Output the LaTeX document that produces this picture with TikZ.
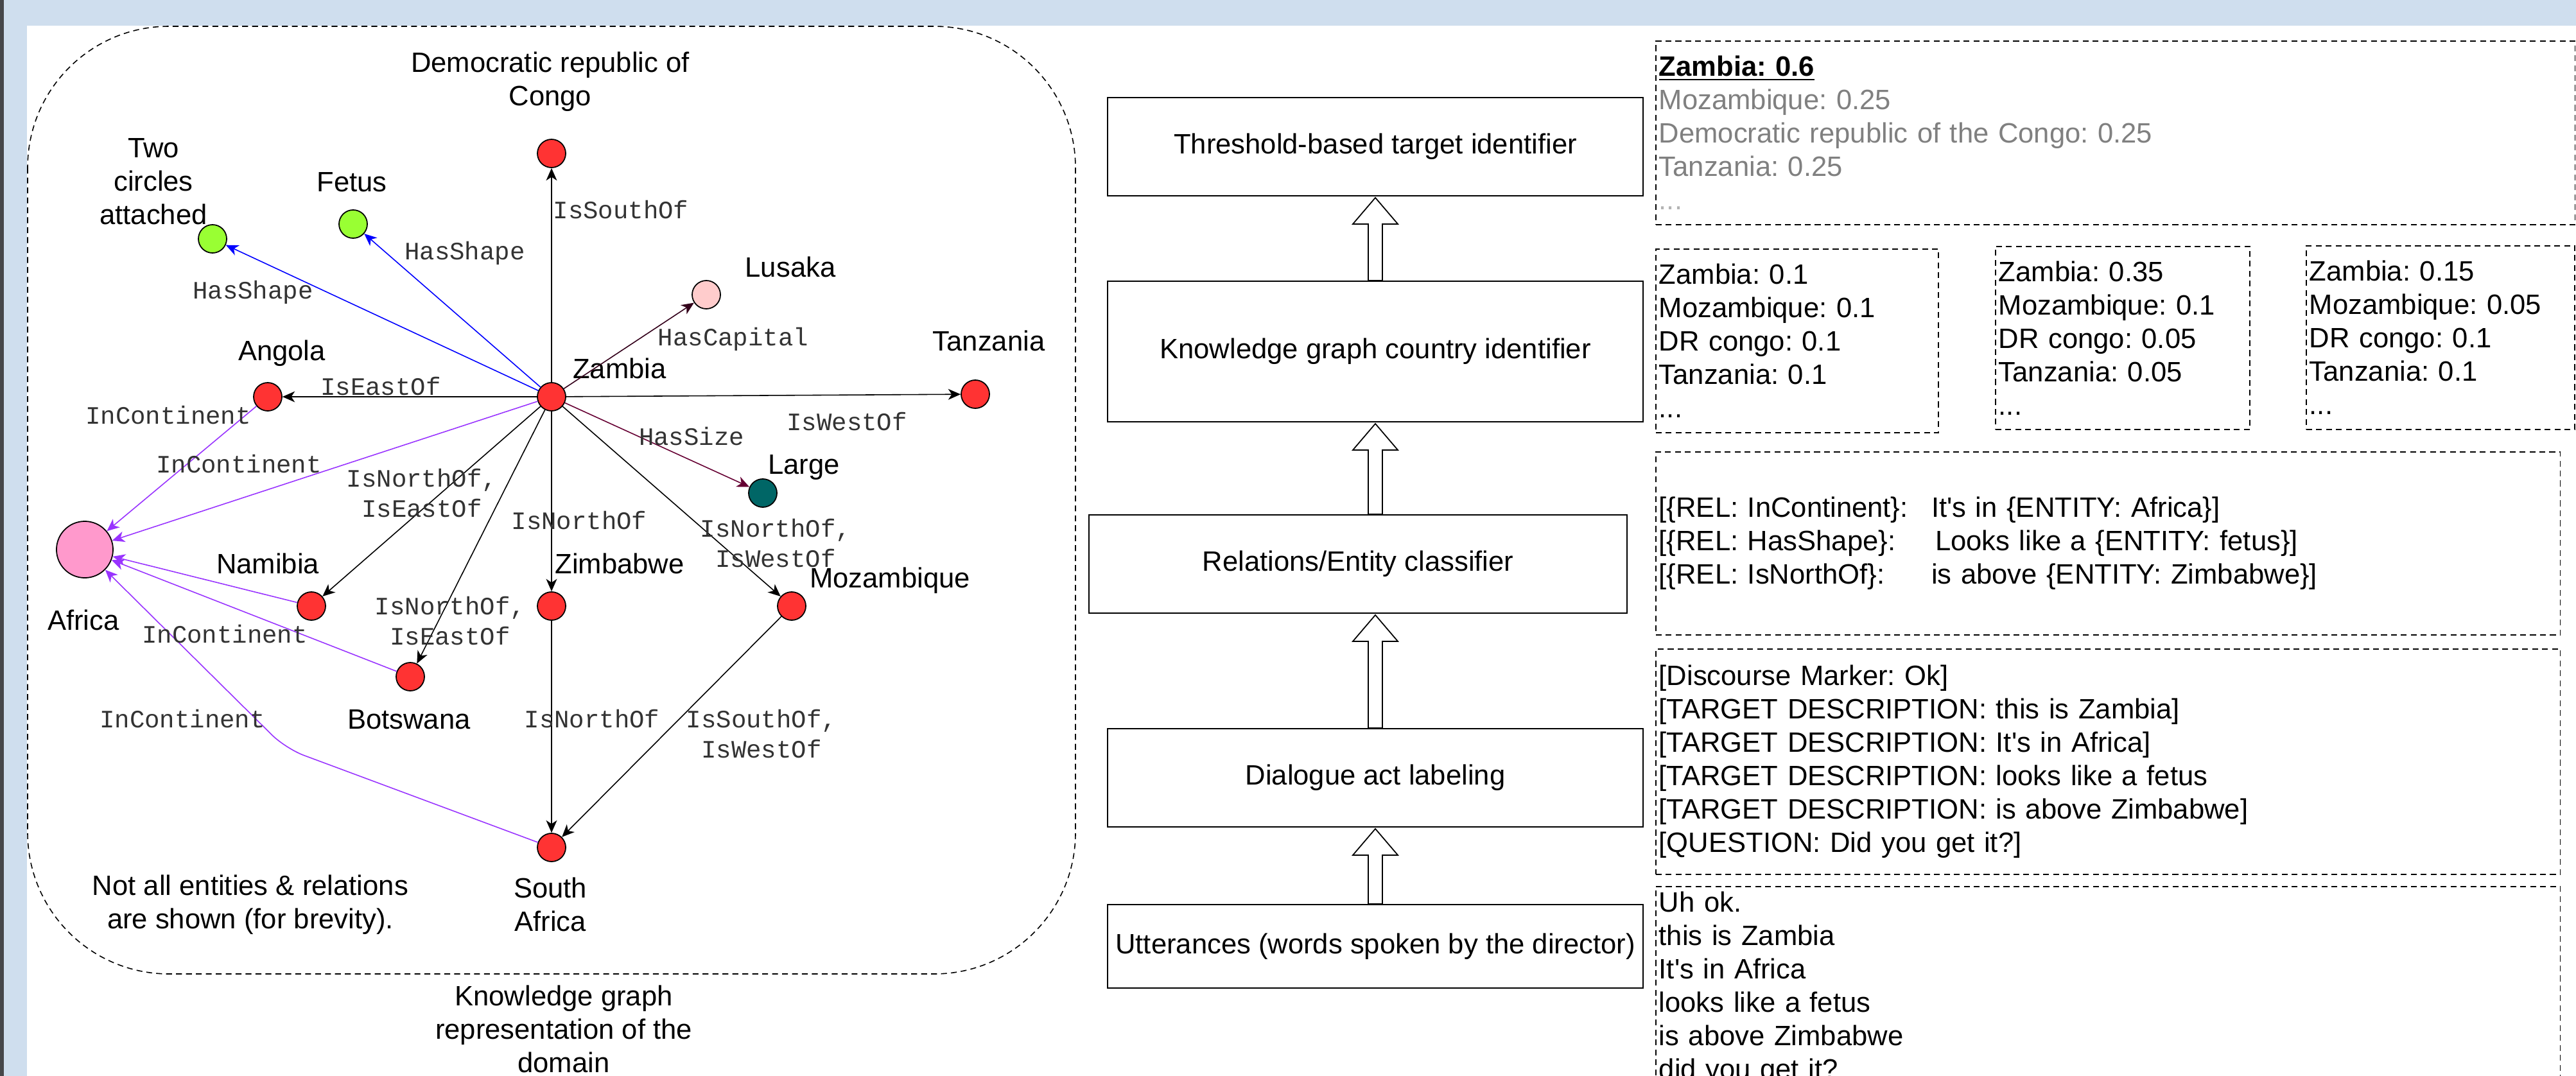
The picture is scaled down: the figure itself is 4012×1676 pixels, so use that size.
\documentclass[tikz,border=0pt]{standalone}
\usepackage{fontspec}
\setmainfont{Liberation Sans}
\setmonofont{Liberation Mono}
\usetikzlibrary{positioning,arrows.meta,calc}
\frenchspacing

\definecolor{kgred}{HTML}{FF3333}
\definecolor{kggreen}{HTML}{99FF33}
\definecolor{kgpink}{HTML}{FFCCCC}
\definecolor{kgafrica}{HTML}{FF99CC}
\definecolor{kgteal}{HTML}{006666}
\definecolor{kgblue}{HTML}{0000FF}
\definecolor{kgpurple}{HTML}{9933FF}
\definecolor{kgmaroon}{HTML}{33001A}
\definecolor{kgwine}{HTML}{660033}
\definecolor{kggray}{HTML}{808080}
\definecolor{kglight}{HTML}{B3B3B3}
\definecolor{pageblue}{HTML}{CFDEEE}
\definecolor{pagegray}{HTML}{46474A}

\newcommand{\lblfont}{\fontsize{12.4}{14.8}\selectfont}
\newcommand{\relfont}{\fontsize{11.1}{13.4}\selectfont\ttfamily}

\tikzset{
  country/.style={circle, draw=black, line width=0.5pt, fill=kgred, minimum size=0.44cm, inner sep=0pt},
  entlbl/.style={font=\lblfont, align=center, inner sep=0pt, text=black},
  rellbl/.style={font=\relfont, align=center, inner sep=0pt, text=black!80},
  kgedge/.style={line width=0.45pt, draw=black, -{Stealth[length=5.5pt,width=4.8pt,inset=1.6pt]}},
  shapeedge/.style={kgedge, draw=kgblue},
  contedge/.style={kgedge, draw=kgpurple},
  propedge/.style={kgedge, draw=kgwine},
  procbox/.style={draw, line width=0.5pt, minimum width=8.34cm, minimum height=1.53cm, font=\lblfont, inner sep=0pt},
  blockarrow/.style={draw, fill=white, line width=0.5pt, line join=miter},
  dashbox/.style={draw, dash pattern=on 2.6pt off 1.8pt, line width=0.45pt, font=\lblfont, align=left, inner xsep=0.05cm, inner ysep=0pt, anchor=north west}
}

\begin{document}
\begin{tikzpicture}[x=0.01cm, y=-0.01cm]

  \useasboundingbox (0,0) rectangle (4012,1676);
  \clip (0,0) rectangle (4012,1676);
  \fill[white] (0,0) rectangle (4012,1676);
  \fill[pageblue] (0,0) rectangle (4012,40);
  \fill[pageblue] (0,0) rectangle (42,1676);
  \fill[pagegray] (0,0) rectangle (6,1676);

  % knowledge graph
  \draw[dash pattern=on 2.6pt off 1.8pt, line width=0.45pt, rounded corners=2.2cm] (43,41) rectangle (1675,1517);

  \node[country] (drc) at (859,239) {};
  \node[country, fill=kggreen] (two) at (331,372) {};
  \node[country, fill=kggreen] (fetus) at (550,349) {};
  \node[country, fill=kgpink] (lusaka) at (1100,459) {};
  \node[country] (zambia) at (859,618) {};
  \node[country] (angola) at (417,618) {};
  \node[country] (tanzania) at (1519,614) {};
  \node[country, fill=kgteal] (large) at (1188,768) {};
  \node[country, fill=kgafrica, minimum size=0.88cm] (africa) at (132,856) {};
  \node[country] (namibia) at (485,944) {};
  \node[country] (zimbabwe) at (859,944) {};
  \node[country] (mozambique) at (1233,944) {};
  \node[country] (botswana) at (639,1054) {};
  \node[country] (southafrica) at (859,1320) {};

  \node[entlbl] (ldrc) at (857,127) {Democratic republic of\\Congo};
  \node[entlbl] (ltwo) at (239,283) {Two\\circles\\attached};
  \node[entlbl] (lfetus) at (548,284) {Fetus};
  \node[entlbl] (llusaka) at (1231,416) {Lusaka};
  \node[entlbl] (ltanzania) at (1540,531) {Tanzania};
  \node[entlbl] (lzambia) at (965,574) {Zambia};
  \node[entlbl] (langola) at (439,550) {Angola};
  \node[entlbl] (llarge) at (1252,728) {Large};
  \node[entlbl] (lnamibia) at (417,878) {Namibia};
  \node[entlbl] (lzimbabwe) at (965,878) {Zimbabwe};
  \node[entlbl] (lmozambique) at (1386,904) {Mozambique};
  \node[entlbl] (lafrica) at (130,966) {Africa};
  \node[entlbl] (lbotswana) at (637,1121) {Botswana};
  \node[entlbl] (lsouthafrica) at (857,1409) {South\\Africa};
  \node[entlbl] (lnote) at (390,1409) {Not all entities \& relations\\are shown (for brevity).};
  \node[entlbl] (lcaption) at (878,1603) {Knowledge graph\\representation of the\\domain};

  \draw[kgedge] (zambia) -- (drc);
  \draw[shapeedge] (zambia) -- (two);
  \draw[shapeedge] (zambia) -- (fetus);
  \draw[propedge, draw=kgmaroon] (zambia) -- (lusaka);
  \draw[kgedge] (zambia) -- (angola);
  \draw[kgedge] (zambia) -- (tanzania);
  \draw[propedge] (zambia) -- (large);
  \draw[kgedge] (zambia) -- (namibia);
  \draw[kgedge] (zambia) -- (botswana);
  \draw[kgedge] (zambia) -- (zimbabwe);
  \draw[kgedge] (zambia) -- (mozambique);
  \draw[kgedge] (zimbabwe) -- (southafrica);
  \draw[kgedge] (mozambique) -- (southafrica);
  \draw[contedge] (zambia) -- (africa);
  \draw[contedge] (angola) -- (africa);
  \draw[contedge] (namibia) -- (africa);
  \draw[contedge] (botswana) -- (africa);
  \coordinate (bend) at (445,1166);
  \draw[contedge, rounded corners=0.3cm] (southafrica) -- (bend) -- (africa);

  \node[rellbl] (rsouth) at (967,327) {IsSouthOf};
  \node[rellbl] (rshapefetus) at (724,394) {HasShape};
  \node[rellbl] (rshapetwo) at (394,455) {HasShape};
  \node[rellbl] (rcapital) at (1142,528) {HasCapital};
  \node[rellbl] (reast) at (593,602) {IsEastOf};
  \node[rellbl] (rwest) at (1319,657) {IsWestOf};
  \node[rellbl] (rsize) at (1077,680) {HasSize};
  \node[rellbl] (rcontangola) at (262,647) {InContinent};
  \node[rellbl] (rcontzambia) at (372,723) {InContinent};
  \node[rellbl] (rnamibia) at (657,768) {IsNorthOf,\\IsEastOf};
  \node[rellbl] (rzimbabwe) at (902,811) {IsNorthOf};
  \node[rellbl] (rmozambique) at (1208,846) {IsNorthOf,\\IsWestOf};
  \node[rellbl] (rbotswana) at (701,967) {IsNorthOf,\\IsEastOf};
  \node[rellbl] (rcontnamibia) at (350,988) {InContinent};
  \node[rellbl] (rcontsouth) at (284,1120) {InContinent};
  \node[rellbl] (rzimsouth) at (922,1120) {IsNorthOf};
  \node[rellbl] (rmozsouth) at (1186,1143) {IsSouthOf,\\IsWestOf};

  % pipeline
  \node[procbox] (b1) at (2142,228.5) {Threshold-based target identifier};
  \node[procbox, minimum height=2.19cm] (b2) at (2142,547.5) {Knowledge graph country identifier};
  \node[procbox, minimum width=8.38cm] (b3) at (2115,878.5) {Relations/Entity classifier};
  \node[procbox] (b4) at (2142,1211.5) {Dialogue act labeling};
  \node[procbox, minimum height=1.30cm] (b5) at (2142,1474) {Utterances (words spoken by the director)};

  \foreach \lo/\hi in {b2/b1, b3/b2, b4/b3, b5/b4} {
    \coordinate (atip) at ($(b1.south |- \hi.south)+(0,2)$);
    \coordinate (afoot) at (b1.south |- \lo.north);
    \draw[blockarrow] ($(afoot)+(-11,0)$) -- ($(atip)+(-11,41)$) -- ($(atip)+(-35,41)$) -- (atip)
      -- ($(atip)+(35,41)$) -- ($(atip)+(11,41)$) -- ($(afoot)+(11,0)$) -- cycle;
  }

  % outputs
  \node[dashbox, minimum width=14.31cm, minimum height=2.86cm, text width=14.21cm] (tfinal) at (2578,63)
    {\underline{\textbf{Zambia: 0.6}}\\
     \textcolor{kggray}{Mozambique: 0.25}\\
     \textcolor{kggray}{Democratic republic of the Congo: 0.25}\\
     \textcolor{kggray}{Tanzania: 0.25}\\
     \textcolor{kglight}{...}};
  \node[dashbox, minimum width=4.40cm, minimum height=2.86cm, text width=4.30cm] (tscoreA) at (2578,387)
    {Zambia: 0.1\\Mozambique: 0.1\\DR congo: 0.1\\Tanzania: 0.1\\...};
  \node[dashbox, minimum width=3.96cm, minimum height=2.85cm, text width=3.86cm] (tscoreB) at (3107,383)
    {Zambia: 0.35\\Mozambique: 0.1\\DR congo: 0.05\\Tanzania: 0.05\\...};
  \node[dashbox, minimum width=4.18cm, minimum height=2.86cm, text width=4.08cm] (tscoreC) at (3591,382)
    {Zambia: 0.15\\Mozambique: 0.05\\DR congo: 0.1\\Tanzania: 0.1\\...};
  \node[dashbox, minimum width=14.08cm, minimum height=2.85cm, text width=13.98cm] (trel) at (2578,703)
    {\makebox[4.24cm][l]{[\{REL: InContinent\}:}It\textquotesingle s in \{ENTITY: Africa\}]\\
     \makebox[4.30cm][l]{[\{REL: HasShape\}:}Looks like a \{ENTITY: fetus\}]\\
     \makebox[4.24cm][l]{[\{REL: IsNorthOf\}:}is above \{ENTITY: Zimbabwe\}]};
  \node[dashbox, minimum width=14.08cm, minimum height=3.51cm, text width=13.98cm] (tacts) at (2578,1010)
    {[Discourse Marker: Ok]\\{}[TARGET DESCRIPTION: this is Zambia]\\{}[TARGET DESCRIPTION: It\textquotesingle s in Africa]\\{}[TARGET DESCRIPTION: looks like a fetus\\{}[TARGET DESCRIPTION: is above Zimbabwe]\\{}[QUESTION: Did you get it?]};
  \node[dashbox, minimum width=14.08cm, minimum height=3.17cm, text width=13.98cm] (tutter) at (2578,1380)
    {Uh ok.\\this is Zambia\\It\textquotesingle s in Africa\\looks like a fetus\\is above Zimbabwe\\did you get it?};

\end{tikzpicture}
\end{document}
